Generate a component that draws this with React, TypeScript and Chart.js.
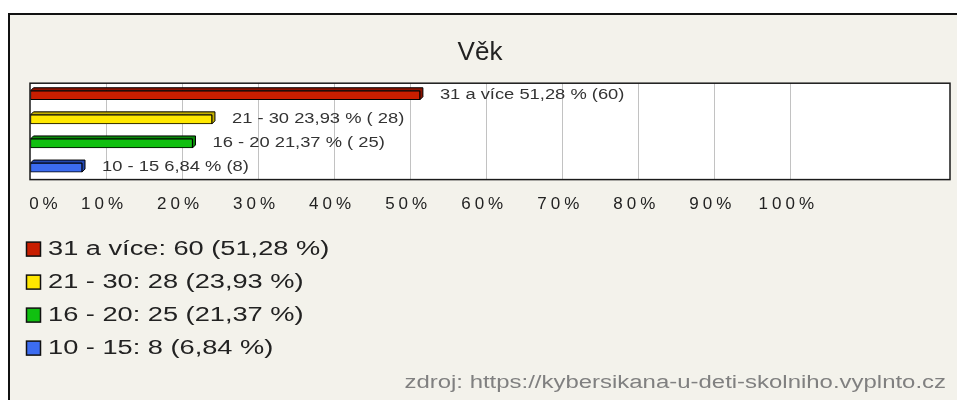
import React, { useEffect, useRef } from 'react';
import { Chart, registerables } from 'chart.js';

Chart.register(...registerables);

// ---- data ----
const chartTitle = 'Věk';
const categories = ['31 a více', '21 - 30', '16 - 20', '10 - 15'];
const counts = [60, 28, 25, 8];
const percents = [51.28, 23.93, 21.37, 6.84];
const barLabels = ['31 a více 51,28 % (60)', '21 - 30 23,93 % ( 28)', '16 - 20 21,37 % ( 25)', '10 - 15 6,84 % (8)'];
const legendLabels = ['31 a více: 60 (51,28 %)', '21 - 30: 28 (23,93 %)', '16 - 20: 25 (21,37 %)', '10 - 15: 8 (6,84 %)'];
const tickValues = [0, 10, 20, 30, 40, 50, 60, 70, 80, 90, 100];
const tickLabels = ['0%', '10%', '20%', '30%', '40%', '50%', '60%', '70%', '80%', '90%', '100%'];
const sourceText = 'zdroj: https://kybersikana-u-deti-skolniho.vyplnto.cz';

// ---- styles ----
const frontColors = ['#c81e00', '#ffe800', '#10c010', '#3c6cf0'];
const topColors = ['#8a1200', '#c4b000', '#0a8a0a', '#2448b0'];
const FONT = '"Liberation Sans", Arial, sans-serif';

function stretchedText(ctx: CanvasRenderingContext2D, text: string, x: number, y: number, size: number, color: string, stretch: number, align: 'left' | 'right' = 'left') {
  ctx.save();
  (ctx as any).letterSpacing = '0px';
  ctx.font = `${size}px ${FONT}`;
  ctx.fillStyle = color;
  ctx.textBaseline = 'middle';
  ctx.textAlign = 'left';
  const w = ctx.measureText(text).width * stretch;
  const x0 = align === 'right' ? x - w : x;
  ctx.translate(x0, y);
  ctx.scale(stretch, 1);
  ctx.fillText(text, 0, 0);
  ctx.restore();
}

const decorPlugin = {
  id: 'vekDecor',
  beforeDraw(chart: any) {
    const { ctx, chartArea: a } = chart;
    ctx.letterSpacing = '0px';
    ctx.save();
    ctx.fillStyle = '#ffffff';
    ctx.fillRect(a.left, a.top, a.right - a.left, a.bottom - a.top);
    ctx.restore();
  },
  beforeDatasetsDraw(chart: any) {
    const ctx = chart.ctx;
    const meta = chart.getDatasetMeta(0);
    const d = 3;
    meta.data.forEach((el: any, i: number) => {
      const { x, y, base, height } = el.getProps(['x', 'y', 'base', 'height'], true);
      const top = y - height / 2;
      const bottom = y + height / 2;
      ctx.save();
      ctx.beginPath();
      ctx.moveTo(base, top);
      ctx.lineTo(base + d, top - d);
      ctx.lineTo(x + d, top - d);
      ctx.lineTo(x + d, bottom - d);
      ctx.lineTo(x, bottom);
      ctx.lineTo(x, top);
      ctx.closePath();
      ctx.fillStyle = topColors[i];
      ctx.fill();
      ctx.strokeStyle = '#000';
      ctx.lineWidth = 1;
      ctx.stroke();
      ctx.restore();
    });
  },
  afterDatasetsDraw(chart: any) {
    const { ctx, chartArea: a } = chart;
    ctx.save();
    ctx.strokeStyle = '#1a1a1a';
    ctx.lineWidth = 1.5;
    ctx.strokeRect(a.left, a.top, a.right - a.left, a.bottom - a.top);
    ctx.restore();
    const meta = chart.getDatasetMeta(0);
    meta.data.forEach((el: any, i: number) => {
      stretchedText(ctx, barLabels[i], el.x + 20, el.y, 14, '#333', 1.31);
    });
    // tick labels (z: 1) are drawn after this with wider spacing
    ctx.letterSpacing = '4px';
  },
  afterDraw(chart: any) {
    const { ctx, chartArea: a } = chart;
    ctx.letterSpacing = '0px';
    legendLabels.forEach((label, i) => {
      const cy = a.bottom + 69.5 + i * 33;
      ctx.save();
      ctx.fillStyle = frontColors[i];
      ctx.fillRect(16.5, cy - 7, 14, 14);
      ctx.strokeStyle = '#111';
      ctx.lineWidth = 1.5;
      ctx.strokeRect(16.5, cy - 7, 14, 14);
      ctx.restore();
      stretchedText(ctx, label, 38, cy, 20, '#222', 1.36);
    });
    stretchedText(ctx, sourceText, chart.width - 11, chart.height - 17, 18, '#808080', 1.33, 'right');
  },
};

export default function App() {
  const ref = useRef<HTMLCanvasElement>(null);
  useEffect(() => {
    const chart = new Chart(ref.current as HTMLCanvasElement, {
      type: 'bar',
      data: {
        labels: categories,
        datasets: [
          {
            label: chartTitle,
            data: percents,
            backgroundColor: frontColors,
            borderColor: '#000',
            borderWidth: 1,
            borderSkipped: false,
            barThickness: 9,
          },
        ],
      },
      options: {
        indexAxis: 'y',
        responsive: false,
        animation: false,
        layout: { padding: { left: 0, right: 7, top: 0, bottom: 170 } },
        plugins: {
          legend: { display: false },
          tooltip: { enabled: false },
          title: {
            display: true,
            text: chartTitle,
            color: '#222',
            font: { family: FONT, size: 26, weight: 'normal' },
            padding: { top: 22, bottom: 15 },
          },
        },
        scales: {
          x: {
            type: 'linear',
            min: 0,
            max: 121,
            afterBuildTicks: (s: any) => {
              s.ticks = tickValues.map((v) => ({ value: v }));
            },
            afterFit: (s: any) => {
              s.paddingLeft = 0;
              s.paddingRight = 0;
            },
            grid: {
              color: (c: any) => (c.tick && c.tick.value > 0 ? '#c2c2c2' : 'rgba(0,0,0,0)'),
              drawTicks: false,
              lineWidth: 1,
            },
            border: { display: false },
            ticks: {
              z: 1,
              padding: 15,
              color: '#222',
              autoSkip: false,
              maxRotation: 0,
              labelOffset: -2,
              font: { family: FONT, size: 17 },
              callback: (_v: any, i: number) => (i === 0 ? '    ' : '') + tickLabels[i],
            },
          },
          y: {
            type: 'category',
            grid: { display: false },
            border: { display: false },
            ticks: { display: false },
            afterFit: (s: any) => {
              s.width = 20;
            },
          },
        },
      },
      plugins: [decorPlugin],
    } as any);
    return () => chart.destroy();
  }, []);

  return (
    <div style={{ position: 'fixed', left: 0, top: 0, width: 957, height: 400, overflow: 'hidden', background: '#fff' }}>
      <div
        style={{
          position: 'absolute',
          left: 8,
          top: 13,
          width: 960,
          height: 400,
          borderLeft: '2px solid #111',
          borderTop: '2px solid #111',
          background: '#f3f2eb',
        }}
      >
        <canvas ref={ref} width={947} height={385} style={{ position: 'absolute', left: 0, top: 0, width: 947, height: 385 }} />
      </div>
    </div>
  );
}
